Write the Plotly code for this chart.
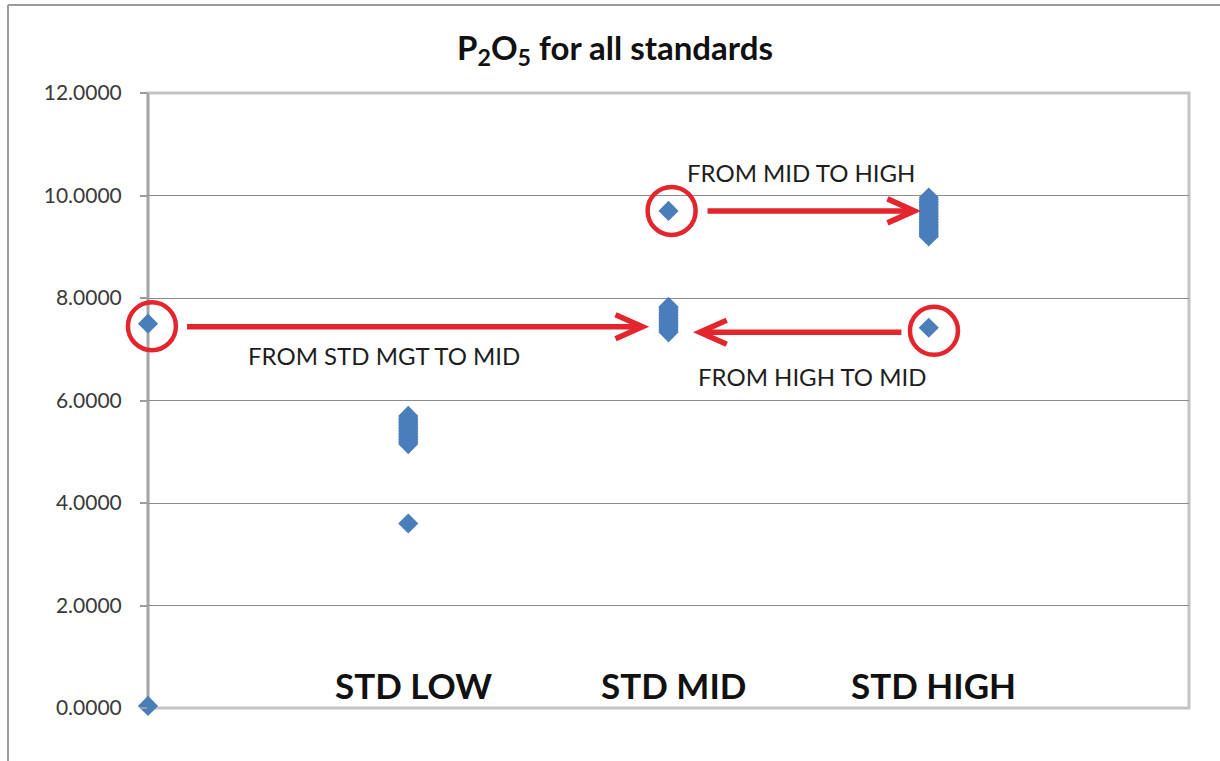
import plotly.graph_objects as go

# P2O5 results per standard position (0 = STD MGT, 1 = LOW, 2 = MID, 3 = HIGH)
mgt_values = [0.04, 7.50]
low_values = [5.15, 5.18, 5.21, 5.24, 5.27, 5.30, 5.33, 5.36, 5.39, 5.42, 5.45, 5.48,
              5.51, 5.54, 5.57, 5.60, 5.63, 5.66, 5.70, 3.60]
mid_values = [7.33, 7.36, 7.39, 7.42, 7.45, 7.48, 7.51, 7.54, 7.57, 7.60, 7.63, 7.66,
              7.69, 7.72, 7.75, 7.78, 7.81, 7.83, 9.70]
high_values = [9.20, 9.23, 9.26, 9.29, 9.32, 9.35, 9.38, 9.41, 9.44, 9.47, 9.50, 9.53,
               9.56, 9.59, 9.62, 9.65, 9.68, 9.71, 9.74, 9.77, 9.80, 9.83, 9.86, 9.89,
               9.92, 9.96, 7.42]

category_labels = ["STD LOW", "STD MID", "STD HIGH"]
category_pos = [1, 2, 3]
y_ticks = [0, 2, 4, 6, 8, 10, 12]

W, H = 1220, 761
M_L, M_R, M_T, M_B = 148, 31, 93, 53
PW, PH = W - M_L - M_R, H - M_T - M_B
X_RANGE = (0, 4)
Y_RANGE = (0, 12)
px_x = PW / (X_RANGE[1] - X_RANGE[0])
px_y = PH / (Y_RANGE[1] - Y_RANGE[0])

BLUE = "#4a7ebb"
RED = "#e3262d"


def to_px(x):
    return (x - X_RANGE[0]) / (X_RANGE[1] - X_RANGE[0])


def to_py(y):
    return (y - Y_RANGE[0]) / (Y_RANGE[1] - Y_RANGE[0])


xs, ys = [], []
for pos, vals in zip([0, 1, 2, 3], [mgt_values, low_values, mid_values, high_values]):
    xs += [pos] * len(vals)
    ys += vals

fig = go.Figure()
fig.add_trace(go.Scatter(
    x=xs, y=ys, mode="markers",
    marker=dict(symbol="diamond", size=15.5, color=BLUE, line=dict(width=0)),
    cliponaxis=False, hoverinfo="x+y", showlegend=False,
))

shapes = []

# plot area frame and left axis line (behind the markers)
shapes.append(dict(type="rect", xref="paper", yref="paper", x0=0, x1=1, y0=0, y1=1,
                   line=dict(color="#c4c4c4", width=3), layer="below"))
shapes.append(dict(type="line", xref="paper", yref="paper", x0=0, x1=0, y0=0, y1=1,
                   line=dict(color="#a4a4a4", width=2.5), layer="below"))

# outer chart border (partly outside the page)
bx = (8 - M_L) / PW
by = (H - M_B - 5) / PH
shapes.append(dict(type="line", xref="paper", yref="paper", x0=bx, x1=bx, y0=by, y1=-0.2,
                   line=dict(color="#9a9a9a", width=2)))
shapes.append(dict(type="line", xref="paper", yref="paper", x0=bx, x1=1.2, y0=by, y1=by,
                   line=dict(color="#9a9a9a", width=2)))


# red circles around the moved samples (radius given in pixels)
def circle(cx, cy, r_px=24):
    rx, ry = r_px / PW, r_px / PH
    return dict(type="circle", xref="paper", yref="paper",
                x0=to_px(cx) - rx, x1=to_px(cx) + rx, y0=to_py(cy) - ry, y1=to_py(cy) + ry,
                line=dict(color=RED, width=4.5), layer="above")


shapes.append(circle(0.015, mgt_values[1] - 0.05))
shapes.append(circle(2.012, mid_values[-1]))
shapes.append(circle(3.02, high_values[-1] - 0.06))


# open-headed arrows
def arrow(x0, x1, y, head_px=27, spread_px=12):
    d = 1 if x1 > x0 else -1
    hx = head_px / px_x * d
    hy = spread_px / px_y
    out = [dict(type="line", xref="x", yref="y", x0=x0, x1=x1 - d * 2 / px_x, y0=y, y1=y,
                line=dict(color=RED, width=5.5), layer="above")]
    out.append(dict(type="path", xref="x", yref="y",
                    path=f"M {x1 - hx} {y + hy} L {x1} {y} L {x1 - hx} {y - hy}",
                    line=dict(color=RED, width=5.5), layer="above"))
    return out


shapes += arrow(0.15, 1.90, 7.44)
shapes += arrow(2.15, 2.945, 9.70)
shapes += arrow(2.895, 2.12, 7.33)

annotations = []
for lab, pos in zip(category_labels, category_pos):
    annotations.append(dict(x=pos + 0.02, y=0.45, xref="x", yref="y", text=f"<b>{lab}</b>",
                            showarrow=False, font=dict(family="Lato", size=35, color="#111111")))

note_font = dict(family="Lato", size=24, color="#1e1e1e")
annotations.append(dict(x=2.51, y=10.45, xref="x", yref="y", text="FROM MID TO HIGH",
                        showarrow=False, font=note_font))
annotations.append(dict(x=0.906, y=6.88, xref="x", yref="y", text="FROM STD MGT TO MID",
                        showarrow=False, font=note_font))
annotations.append(dict(x=2.55, y=6.47, xref="x", yref="y", text="FROM HIGH TO MID",
                        showarrow=False, font=note_font))

fig.update_layout(
    width=W, height=H,
    margin=dict(l=M_L, r=M_R, t=M_T, b=M_B, pad=0),
    paper_bgcolor="white", plot_bgcolor="white",
    title=dict(text="<b>P<sub>2</sub>O<sub>5</sub> for all standards</b>",
               x=(615 / W), xanchor="center", y=1 - 48 / H, yanchor="middle",
               font=dict(family="Lato", size=33, color="#111111")),
    xaxis=dict(range=list(X_RANGE), showgrid=False, zeroline=False, showticklabels=False,
               ticks="", showline=False),
    yaxis=dict(range=list(Y_RANGE), tickvals=y_ticks, tickformat=".4f",
               showgrid=True, gridcolor="#8c8c8c", gridwidth=1, zeroline=False,
               ticks="outside", ticklen=7, tickcolor="#9c9c9c", tickwidth=1.5,
               ticklabelstandoff=14,
               tickfont=dict(family="Lato", size=21, color="#3a3a3a"), showline=False),
    shapes=shapes, annotations=annotations,
)

fig.write_html("out.html")
